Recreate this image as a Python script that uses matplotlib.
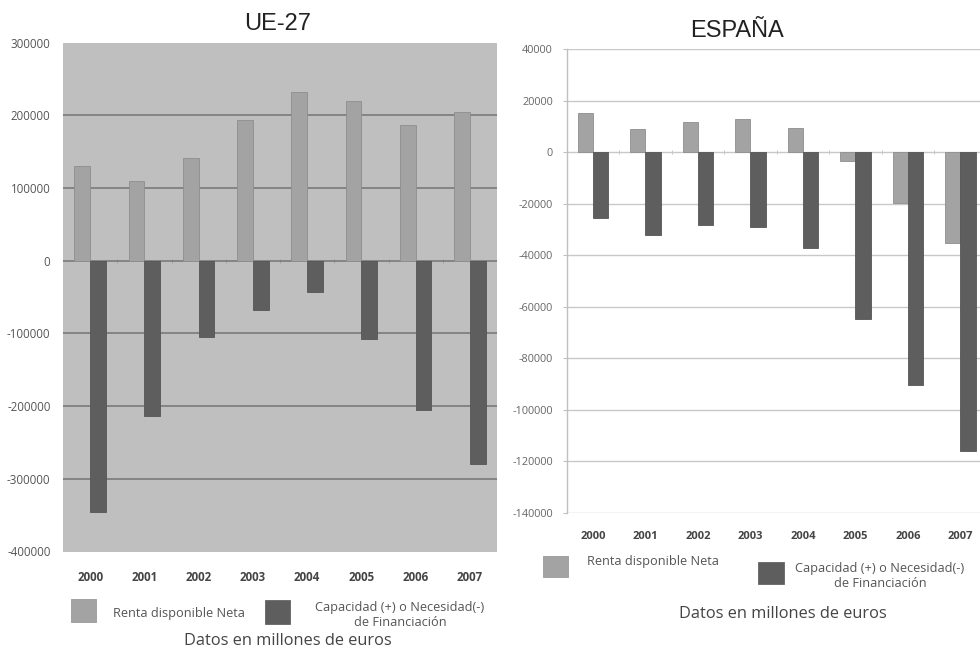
import matplotlib
matplotlib.use("Agg")
import matplotlib.pyplot as plt
from matplotlib.patches import Rectangle
import numpy as np

years = ["2000", "2001", "2002", "2003", "2004", "2005", "2006", "2007"]

ue_renta = [130000, 110000, 141500, 193500, 232500, 220000, 186500, 204000]
ue_capacidad = [-345000, -213500, -105500, -68000, -43500, -107000, -205000, -279500]

es_renta = [15300, 9000, 11800, 13000, 9400, -3600, -19700, -35200]
es_capacidad = [-25500, -32300, -28200, -28900, -37100, -64600, -90300, -116000]

ue_ticks = [300000, 200000, 100000, 0, -100000, -200000, -300000, -400000]
es_ticks = [40000, 20000, 0, -20000, -40000, -60000, -80000, -100000, -120000, -140000]

legend_renta = "Renta disponible Neta"
legend_cap = "Capacidad (+) o Necesidad(-)\nde Financiación"
note = "Datos en millones de euros"

C_LIGHT = "#a3a3a3"
C_DARK = "#5e5e5e"
SANS = ["Open Sans", "DejaVu Sans"]
TITLE = ["Liberation Sans", "DejaVu Sans"]

fig = plt.figure(figsize=(9.8, 6.52), dpi=100)
fig.patch.set_facecolor("white")

x = np.arange(len(years))
w = 0.29

# ---------- Left: UE-27 ----------
ax1 = fig.add_axes([63/980, 1-551.5/652, 434/980, (551.5-42.7)/652])
ax1.set_facecolor("#bfbfbf")
ax1.bar(x - w/2, ue_renta, w, color=C_LIGHT, edgecolor="#8e8e8e", linewidth=0.6, zorder=3)
ax1.bar(x + w/2, ue_capacidad, w, color=C_DARK, edgecolor="#555555", linewidth=0.6, zorder=3)
ax1.set_xlim(-0.5, len(years) - 0.5)
ax1.set_ylim(-400000, 300000)
ax1.set_yticks(ue_ticks)
ax1.set_yticklabels([str(t) for t in ue_ticks], fontsize=8.3, color="#555555", family=SANS)
ax1.set_xticks(x)
ax1.set_xticklabels(years, fontsize=8.3, color="#444444", family=SANS, fontweight="bold")
ax1.tick_params(axis="both", length=0)
ax1.tick_params(axis="x", pad=14)
ax1.tick_params(axis="y", pad=9)
ax1.hlines(ue_ticks[1:-1], -0.5, len(years) - 0.5, color="#7f7f7f", linewidth=1.3, zorder=1)
for s in ax1.spines.values():
    s.set_visible(False)
sec1 = ax1.secondary_xaxis(400000/700000)
sec1.set_xticks(x[:-1] + 0.5)
sec1.set_xticklabels([])
sec1.tick_params(direction="inout", length=3, color="#9a9a9a", width=0.6)
sec1.spines["bottom"].set_visible(False)
sec1.spines["top"].set_visible(False)
fig.text(278/980, 1-30/652, "UE-27", fontsize=17, family=TITLE, color="#222222", ha="center", va="baseline")

# legend left
fig.patches.append(Rectangle((71/980, 1-622/652), 25/980, 23/652, transform=fig.transFigure,
                             facecolor=C_LIGHT, edgecolor="#8e8e8e", linewidth=0.5))
fig.text(113/980, 1-613/652, legend_renta, fontsize=9.2, family=SANS, color="#555555", va="center")
fig.patches.append(Rectangle((265/980, 1-624/652), 25/980, 24/652, transform=fig.transFigure,
                             facecolor=C_DARK, edgecolor="#555555", linewidth=0.5))
fig.text(400/980, 1-615/652, legend_cap, fontsize=9.2, family=SANS, color="#555555", va="center",
         ha="center", linespacing=1.25)
fig.text(288/980, 1-641/652, note, fontsize=11.8, family=SANS, color="#444444", ha="center", va="center")

# ---------- Right: ESPAÑA ----------
ax2 = fig.add_axes([566.7/980, 1-513/652, 420/980, 464/652])
ax2.set_facecolor("white")
ax2.bar(x - w/2, es_renta, w, color=C_LIGHT, edgecolor="#8e8e8e", linewidth=0.6, zorder=3)
ax2.bar(x + w/2, es_capacidad, w, color=C_DARK, edgecolor="#555555", linewidth=0.6, zorder=3)
ax2.set_xlim(-0.5, len(years) - 0.5)
ax2.set_ylim(-140000, 40000)
ax2.set_yticks(es_ticks)
ax2.set_yticklabels([str(t) for t in es_ticks], fontsize=7.8, color="#666666", family=SANS)
ax2.set_xticks(x)
ax2.set_xticklabels(years, fontsize=8, color="#444444", family=SANS, fontweight="bold")
ax2.tick_params(axis="x", length=0, pad=13)
ax2.tick_params(axis="y", length=3, color="#c0c0c0", width=0.8, pad=7)
ax2.grid(axis="y", color="#c8c8c8", linewidth=1.0, zorder=1)
for k in ["top", "right", "bottom"]:
    ax2.spines[k].set_visible(False)
ax2.spines["left"].set_color("#c0c0c0")
ax2.spines["left"].set_linewidth(1.0)
sec2 = ax2.secondary_xaxis(140000/180000)
sec2.set_xticks(x[:-1] + 0.5)
sec2.set_xticklabels([])
sec2.tick_params(direction="inout", length=3, color="#bbbbbb", width=0.6)
sec2.spines["bottom"].set_visible(False)
sec2.spines["top"].set_visible(False)
fig.text(737/980, 1-37/652, "ESPAÑA", fontsize=17, family=TITLE, color="#222222", ha="center", va="baseline")

fig.patches.append(Rectangle((543/980, 1-577/652), 25/980, 21/652, transform=fig.transFigure,
                             facecolor=C_LIGHT, edgecolor="#8e8e8e", linewidth=0.5))
fig.text(587/980, 1-562/652, legend_renta, fontsize=9.2, family=SANS, color="#555555", va="center")
fig.patches.append(Rectangle((758/980, 1-584/652), 26/980, 22/652, transform=fig.transFigure,
                             facecolor=C_DARK, edgecolor="#555555", linewidth=0.5))
fig.text(880/980, 1-576/652, legend_cap, fontsize=9.2, family=SANS, color="#555555", va="center",
         ha="center", linespacing=1.25)
fig.text(783/980, 1-614/652, note, fontsize=11.8, family=SANS, color="#444444", ha="center", va="center")

fig.savefig("out.png", dpi=100)
